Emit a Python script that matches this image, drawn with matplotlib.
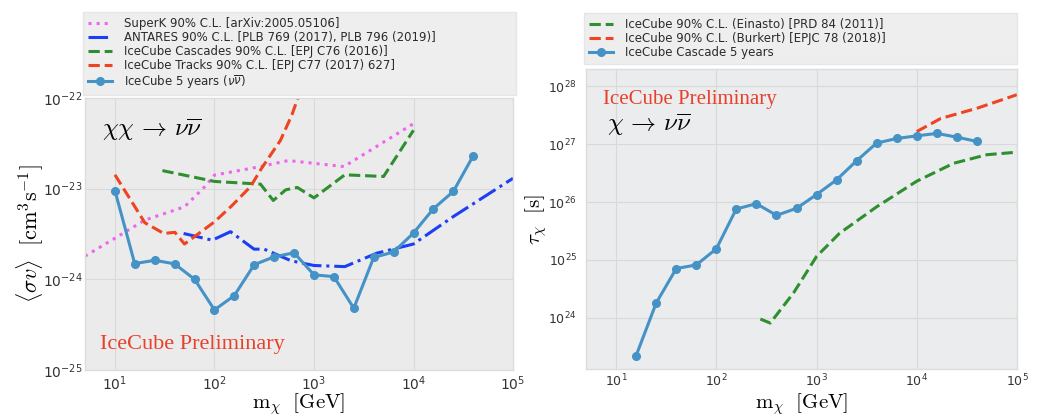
import matplotlib
matplotlib.use('Agg')
import matplotlib.pyplot as plt

# ---------------- data: annihilation (left) ----------------
mass = [10, 15.8, 25.1, 39.8, 63.1, 100, 158, 251, 398, 631, 1000, 1585,
        2512, 3981, 6310, 10000, 15850, 25120, 39810]
ann_ic5 = [9.5e-24, 1.49e-24, 1.62e-24, 1.48e-24, 1.0e-24, 4.6e-25, 6.6e-25,
           1.45e-24, 1.77e-24, 1.96e-24, 1.12e-24, 1.07e-24, 4.8e-25, 1.74e-24,
           2.0e-24, 3.24e-24, 6.0e-24, 9.3e-24, 2.3e-23]

superk_m = [5, 10, 20, 50, 80, 100, 290, 550, 2000, 10000]
superk_sv = [1.8e-24, 2.84e-24, 4.5e-24, 6.3e-24, 1.05e-23, 1.41e-23, 1.75e-23,
             2.04e-23, 1.75e-23, 5.2e-23]

antares_m = [49, 95, 145, 250, 316, 590, 1000, 2040, 4270, 10000, 25000, 100000]
antares_sv = [3.2e-24, 2.7e-24, 3.35e-24, 2.15e-24, 2.15e-24, 1.6e-24, 1.42e-24,
              1.38e-24, 1.94e-24, 2.45e-24, 4.9e-24, 1.3e-23]

casc_m = [30, 100, 290, 390, 520, 680, 1000, 2040, 5000, 10000]
casc_sv = [1.58e-23, 1.2e-23, 1.12e-23, 7.4e-24, 9.7e-24, 1.03e-23, 7.9e-24,
           1.42e-23, 1.36e-23, 4.4e-23]

tracks_m = [10, 20, 31, 40, 50, 100, 150, 230, 300, 460, 600, 700, 800]
tracks_sv = [1.42e-23, 4.2e-24, 3.2e-24, 3.3e-24, 2.45e-24, 4.3e-24, 6.5e-24,
             1.05e-23, 1.7e-23, 3.4e-23, 6.5e-23, 1.05e-22, 1.5e-22]

# ---------------- data: decay (right) ----------------
dec_m = [15.8, 25.1, 39.8, 63.1, 100, 158, 251, 398, 631, 1000, 1585,
         2512, 3981, 6310, 10000, 15850, 25120, 39810]
dec_ic5 = [2.2e23, 1.8e24, 7.1e24, 8.2e24, 1.56e25, 7.6e25, 9.4e25, 5.9e25,
           7.8e25, 1.35e26, 2.43e26, 5.2e26, 1.05e27, 1.26e27, 1.4e27,
           1.54e27, 1.33e27, 1.12e27]

einasto_m = [275, 345, 590, 1000, 1700, 3980, 10000, 23400, 50000, 100000]
einasto_tau = [9.5e23, 8.1e23, 2.7e24, 1.15e25, 2.9e25, 8.3e25, 2.3e26,
               4.7e26, 6.6e26, 7.3e26]

burkert_m = [10000, 17400, 40000, 100000]
burkert_tau = [1.66e27, 2.8e27, 4.2e27, 7.2e27]

left_labels = ['SuperK 90% C.L. [arXiv:2005.05106]',
               'ANTARES 90% C.L. [PLB 769 (2017), PLB 796 (2019)]',
               'IceCube Cascades 90% C.L. [EPJ C76 (2016)]',
               'IceCube Tracks 90% C.L. [EPJ C77 (2017) 627]',
               r'IceCube 5 years ($\nu\overline{\nu}$)']
right_labels = ['IceCube 90% C.L. (Einasto) [PRD 84 (2011)]',
                'IceCube 90% C.L. (Burkert) [EPJC 78 (2018)]',
                'IceCube Cascade 5 years']

# ---------------- style ----------------
C_IC = '#4592c6'
C_ANT = '#1a3ff5'
C_GRN = '#2f8f2f'
C_RED = '#ee4422'
C_MAG = '#ee66ee'
C_PREL = '#e8402b'
LW = 2.2

plt.rcParams['font.family'] = ['DejaVu Sans']

fig = plt.figure(figsize=(10.44, 4.16), dpi=100)
ax1 = fig.add_axes([0.0814, 0.1106, 0.41, 0.654])
ax2 = fig.add_axes([0.5613, 0.113, 0.4128, 0.721])


def style(ax, bg, tsize, ypad):
    ax.set_facecolor(bg)
    ax.set_xscale('log')
    ax.set_yscale('log')
    ax.grid(True, which='major', color='#d9d9d9', lw=0.8)
    ax.grid(False, which='minor')
    ax.set_axisbelow(True)
    for s in ax.spines.values():
        s.set_color('#dcdcdc')
        s.set_linewidth(1.0)
    ax.tick_params(which='both', length=0, labelsize=tsize, labelcolor='#333333')
    ax.tick_params(axis='y', pad=ypad)
    ax.tick_params(axis='x', pad=3)
    ax.minorticks_off()


def legend(ax, labels_box):
    leg = ax.legend(loc='upper left', bbox_to_anchor=labels_box,
                    bbox_transform=fig.transFigure, mode='expand', borderaxespad=0,
                    fontsize=8.5, labelspacing=0.08, handlelength=2.0,
                    handletextpad=1.0, borderpad=0.45, fancybox=False,
                    framealpha=1, facecolor='#eeeeee', edgecolor='#e6e6e6')
    for t in leg.get_texts():
        t.set_color('#2b2b2b')
    return leg


# ---------- left ----------
style(ax1, '#ebebeb', 10, 2)
ax1.plot(superk_m, superk_sv, ls=':', color=C_MAG, lw=LW, label=left_labels[0])
ax1.plot(antares_m, antares_sv, ls='-.', color=C_ANT, lw=LW, label=left_labels[1])
ax1.plot(casc_m, casc_sv, ls='--', color=C_GRN, lw=LW, label=left_labels[2])
ax1.plot(tracks_m, tracks_sv, ls='--', color=C_RED, lw=LW, label=left_labels[3])
ax1.plot(mass, ann_ic5, '-o', color=C_IC, lw=LW, ms=5.5, label=left_labels[4])
ax1.set_xlim(5, 1e5)
ax1.set_ylim(1e-25, 1e-22)
ax1.set_xticks([1e1, 1e2, 1e3, 1e4, 1e5])
ax1.set_yticks([1e-25, 1e-24, 1e-23, 1e-22])
ax1.set_xlabel(r'$\mathrm{m}_\chi\ \ [\mathrm{GeV}]$', fontsize=15,
               math_fontfamily='cm')
ax1.set_ylabel(r'$\langle\sigma v\rangle\ \ [\mathrm{cm}^3\mathrm{s}^{-1}]$',
               fontsize=16, math_fontfamily='cm')
ax1.xaxis.set_label_coords(0.5, -0.08)
ax1.yaxis.set_label_coords(-0.092, 0.5)
ax1.text(0.04, 0.882, r'$\chi\chi\,\rightarrow\,\nu\overline{\nu}$',
         transform=ax1.transAxes, fontsize=18, math_fontfamily='cm',
         va='center', ha='left', color='black')
ax1.text(0.035, 0.092, 'IceCube Preliminary', transform=ax1.transAxes,
         fontsize=16, family='Liberation Serif', color=C_PREL,
         va='center', ha='left')
legend(ax1, (0.0795, 0.7764, 0.4148, 0.1947))

# ---------- right ----------
style(ax2, '#eaecee', 9, 6.5)
ax2.plot(einasto_m, einasto_tau, ls='--', color=C_GRN, lw=LW, label=right_labels[0])
ax2.plot(burkert_m, burkert_tau, ls='--', color=C_RED, lw=LW, label=right_labels[1])
ax2.plot(dec_m, dec_ic5, '-o', color=C_IC, lw=LW, ms=5.5, label=right_labels[2])
ax2.set_xlim(5, 1e5)
ax2.set_ylim(1.3e23, 2e28)
ax2.set_xticks([1e1, 1e2, 1e3, 1e4, 1e5])
ax2.set_yticks([1e24, 1e25, 1e26, 1e27, 1e28])
ax2.set_xlabel(r'$\mathrm{m}_\chi\ \ [\mathrm{GeV}]$', fontsize=15,
               math_fontfamily='cm')
ax2.set_ylabel(r'$\tau_\chi\ \ [\mathrm{s}]$', fontsize=15, math_fontfamily='cm')
ax2.xaxis.set_label_coords(0.5, -0.073)
ax2.yaxis.set_label_coords(-0.085, 0.5)
ax2.text(0.039, 0.9, 'IceCube Preliminary', transform=ax2.transAxes,
         fontsize=15, family='Liberation Serif', color=C_PREL,
         va='center', ha='left')
ax2.text(0.049, 0.813, r'$\chi\,\rightarrow\,\nu\overline{\nu}$',
         transform=ax2.transAxes, fontsize=18, math_fontfamily='cm',
         va='center', ha='left', color='black')
legend(ax2, (0.5594, 0.8486, 0.4148, 0.1209))

fig.savefig('out.png', dpi=100, facecolor='white')
